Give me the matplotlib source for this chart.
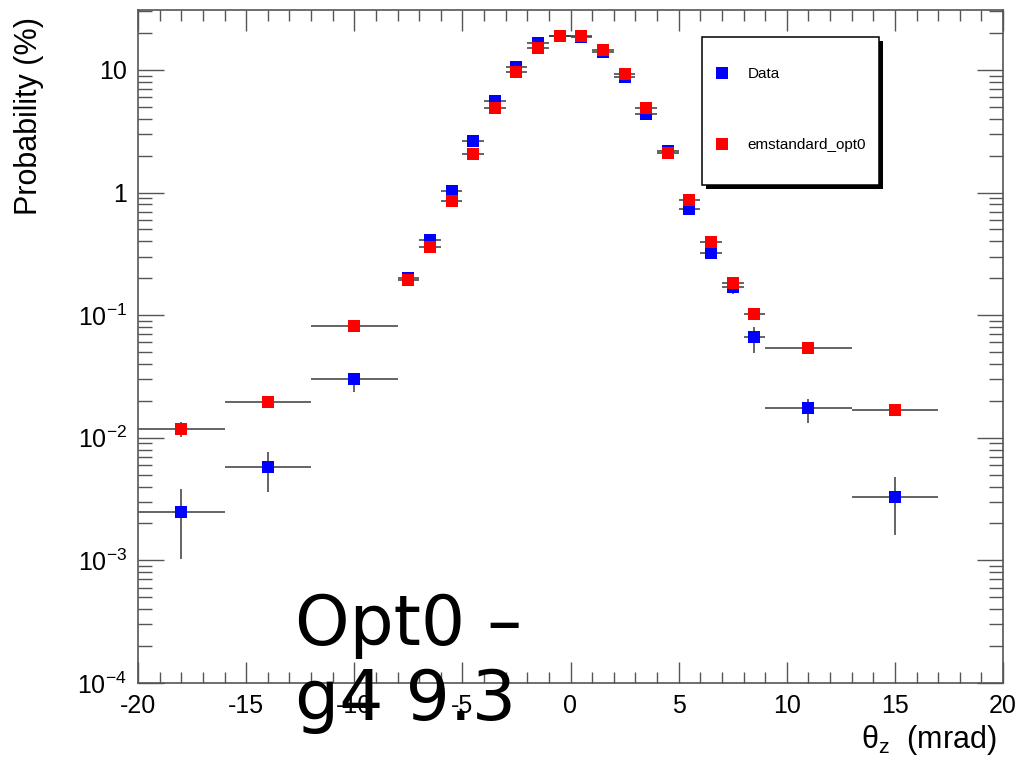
import matplotlib
matplotlib.use('Agg')
import matplotlib.pyplot as plt
from matplotlib.patches import Rectangle
from matplotlib.ticker import MultipleLocator, FixedLocator, LogLocator, NullFormatter

plt.rcParams['font.family'] = ['Liberation Sans', 'DejaVu Sans']
plt.rcParams['mathtext.fontset'] = 'custom'
plt.rcParams['mathtext.rm'] = 'Liberation Sans'
plt.rcParams['mathtext.it'] = 'Liberation Sans'
plt.rcParams['axes.unicode_minus'] = False

# bin centres and half widths (mrad)
theta_z = [-18, -14, -10, -7.5, -6.5, -5.5, -4.5, -3.5, -2.5, -1.5, -0.5,
           0.5, 1.5, 2.5, 3.5, 4.5, 5.5, 6.5, 7.5, 8.5, 11, 15]
half_bin = [2, 2, 2, 0.5, 0.5, 0.5, 0.5, 0.5, 0.5, 0.5, 0.5,
            0.5, 0.5, 0.5, 0.5, 0.5, 0.5, 0.5, 0.5, 0.5, 2, 2]

# Data (%)
data_p = [0.00249, 0.0058, 0.0302, 0.20, 0.41, 1.03, 2.64, 5.6, 10.6, 16.7, 18.8,
          18.7, 14.1, 8.8, 4.4, 2.2, 0.731, 0.320, 0.17, 0.066, 0.0176, 0.00329]
data_lo = [0.00146, 0.00217, 0.0064, 0.012, 0.02, 0.04, 0.08, 0.15, 0.25, 0.35, 0.4,
           0.4, 0.35, 0.22, 0.13, 0.07, 0.03, 0.02, 0.02, 0.0166, 0.0043, 0.00168]
data_hi = [0.00131, 0.0019, 0.0038, 0.012, 0.02, 0.04, 0.08, 0.15, 0.25, 0.35, 0.4,
           0.4, 0.35, 0.22, 0.13, 0.07, 0.03, 0.02, 0.02, 0.0145, 0.0033, 0.00147]

# emstandard_opt0 (%)
sim_p = [0.0118, 0.0197, 0.0817, 0.194, 0.362, 0.854, 2.07, 4.87, 9.69, 15.0, 18.9,
         18.9, 14.6, 9.27, 4.87, 2.09, 0.871, 0.394, 0.182, 0.1016, 0.0537, 0.01686]
sim_err = [0.0017, 0.0012, 0.003, 0.005, 0.008, 0.015, 0.03, 0.06, 0.1, 0.13, 0.15,
           0.15, 0.13, 0.1, 0.06, 0.03, 0.015, 0.008, 0.005, 0.004, 0.002, 0.0012]

decades = [1e-4, 1e-3, 1e-2, 1e-1, 1, 10]
decade_labels = [r'$\mathregular{10^{-4}}$', r'$\mathregular{10^{-3}}$', r'$\mathregular{10^{-2}}$',
                 r'$\mathregular{10^{-1}}$', '1', '10']

W, H = 1016, 757
fig = plt.figure(figsize=(W / 100, H / 100), dpi=100)
ax = fig.add_axes([138 / W, 1 - 683 / H, (1003 - 138) / W, (683 - 10) / H])

err_kw = dict(fmt='s', ms=8.6, mew=0, ecolor='#3a3a3a', elinewidth=1.1, capsize=1.8, capthick=1.1)
eb_data = ax.errorbar(theta_z, data_p, xerr=half_bin, yerr=[data_lo, data_hi], color='#0000ff',
                      label='Data', **err_kw)
eb_sim = ax.errorbar(theta_z, sim_p, xerr=half_bin, yerr=sim_err, color='#ff0000',
                     label='emstandard_opt0', **err_kw)

ax.set_yscale('log')
ax.set_xlim(-20, 20)
ax.set_ylim(1e-4, 30.8)

ax.xaxis.set_major_locator(MultipleLocator(5))
ax.xaxis.set_minor_locator(MultipleLocator(1))
ax.yaxis.set_major_locator(FixedLocator(decades))
ax.set_yticklabels(decade_labels)
ax.yaxis.set_minor_locator(LogLocator(base=10, subs=range(2, 10), numticks=20))
ax.yaxis.set_minor_formatter(NullFormatter())

for s in ax.spines.values():
    s.set_color('#555555')
    s.set_linewidth(1.2)
ax.tick_params(which='both', direction='in', top=True, right=True, color='#555555',
               width=1.0, labelsize=18, labelcolor='black')
ax.tick_params(axis='x', which='major', length=15, pad=8)
ax.tick_params(axis='x', which='minor', length=8)
ax.tick_params(axis='y', which='major', length=19, pad=8)
ax.tick_params(axis='y', which='minor', length=10)

# axis titles, ROOT style (aligned to axis ends)
fig.text(997 / W, 1 - 748 / H, r'$\mathregular{\theta_{z}}$  (mrad)', fontsize=22,
         ha='right', va='baseline')
fig.text(29 / W, 1 - 17 / H, 'Probability (%)', fontsize=22, rotation=90,
         ha='center', va='top')

# legend box with shadow
ax.add_patch(Rectangle((706 / W, 1 - 189 / H), 177 / W, 148 / H, transform=fig.transFigure,
                       facecolor='black', edgecolor='none', clip_on=False, zorder=4))
ax.add_patch(Rectangle((702 / W, 1 - 185 / H), 177 / W, 148 / H, transform=fig.transFigure,
                       facecolor='white', edgecolor='black', linewidth=1.1, clip_on=False, zorder=4.5))
leg = ax.legend(handles=[eb_data[0], eb_sim[0]], labels=['Data', 'emstandard_opt0'],
                loc='upper left', bbox_to_anchor=(716 / W, 1 - 67 / H),
                bbox_transform=fig.transFigure, frameon=False, fontsize=11,
                borderpad=0, borderaxespad=0, handlelength=0.8, handletextpad=1.25,
                labelspacing=3.75, numpoints=1)
leg.set_zorder(6)

# slide overlay text
fig.text(295 / W, 1 - 645 / H, 'Opt0 \u2013', fontsize=50, family='DejaVu Sans',
         ha='left', va='baseline', color='black')
fig.text(295 / W, 1 - 720 / H, 'g4 9.3', fontsize=50, family='DejaVu Sans',
         ha='left', va='baseline', color='black')

fig.savefig('out.png', dpi=100)
